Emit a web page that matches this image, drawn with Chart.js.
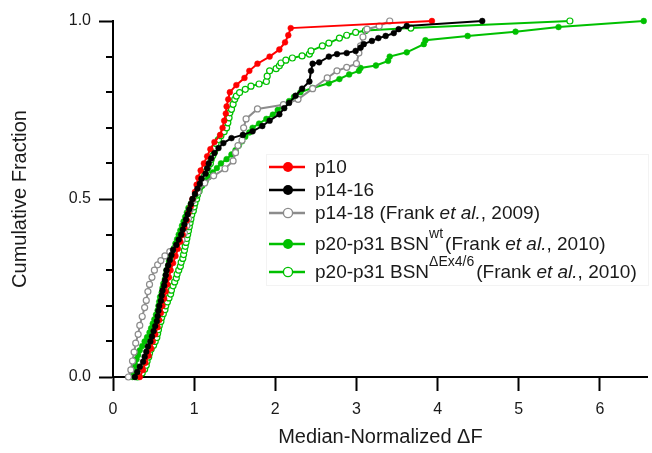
<!DOCTYPE html>
<html><head><meta charset="utf-8">
<script src="https://cdn.jsdelivr.net/npm/chart.js@4.4.1/dist/chart.umd.min.js"></script>
<style>html,body{margin:0;padding:0;background:#fff;}</style>
</head><body>
<canvas id="c" width="652" height="453"></canvas>
<script>
// ---- data ----
const xTickLabels = [0, 1, 2, 3, 4, 5, 6];
const yTickLabels = [0.0, 0.5, 1.0];
const yMinorTicks = [0.1, 0.2, 0.3, 0.4, 0.6, 0.7, 0.8, 0.9];
const xTitle = 'Median-Normalized ΔF';
const yTitle = 'Cumulative Fraction';

const p10X = [0.33,0.37,0.40,0.44,0.47,0.49,0.52,0.55,0.57,0.59,0.61,0.63,0.65,0.67,0.69,0.71,0.74,0.77,0.80,0.83,0.86,0.88,0.91,0.93,0.96,0.98,1.01,1.03,1.05,1.08,1.12,1.16,1.20,1.25,1.32,1.35,1.37,1.39,1.40,1.42,1.44,1.52,1.62,1.68,1.78,1.93,2.05,2.12,2.16,2.19,3.93];
const p10Y = [0.00,0.02,0.04,0.06,0.08,0.10,0.12,0.14,0.16,0.18,0.20,0.22,0.24,0.26,0.28,0.30,0.32,0.34,0.36,0.38,0.40,0.42,0.44,0.46,0.48,0.50,0.52,0.54,0.56,0.58,0.60,0.62,0.64,0.66,0.68,0.70,0.72,0.74,0.76,0.78,0.80,0.82,0.84,0.86,0.88,0.90,0.92,0.94,0.96,0.98,1.00];

const p1416X = [0.27,0.30,0.33,0.37,0.39,0.41,0.43,0.46,0.48,0.50,0.52,0.54,0.55,0.56,0.57,0.59,0.60,0.61,0.63,0.64,0.65,0.66,0.68,0.70,0.72,0.74,0.78,0.81,0.84,0.86,0.88,0.90,0.92,0.94,0.96,0.98,1.01,1.04,1.07,1.09,1.14,1.16,1.18,1.21,1.25,1.30,1.36,1.46,1.60,1.72,1.84,1.93,2.05,2.11,2.17,2.25,2.33,2.42,2.44,2.46,2.54,2.66,2.76,2.88,2.99,3.05,3.09,3.19,3.27,3.36,3.46,3.52,3.62,4.55];
const p1416Y = [0.000,0.014,0.029,0.043,0.057,0.071,0.086,0.100,0.114,0.129,0.143,0.157,0.171,0.186,0.200,0.214,0.229,0.243,0.257,0.271,0.286,0.300,0.314,0.329,0.343,0.357,0.371,0.386,0.400,0.414,0.429,0.443,0.457,0.471,0.486,0.500,0.514,0.529,0.543,0.557,0.571,0.586,0.600,0.614,0.629,0.643,0.657,0.671,0.680,0.690,0.705,0.720,0.738,0.755,0.770,0.790,0.810,0.830,0.860,0.880,0.884,0.900,0.907,0.910,0.916,0.925,0.935,0.944,0.952,0.958,0.966,0.977,0.986,1.000];

const p1418X = [0.19,0.22,0.24,0.26,0.28,0.31,0.33,0.36,0.39,0.41,0.43,0.45,0.48,0.51,0.55,0.59,0.64,0.70,0.78,0.85,0.88,0.91,0.93,0.95,0.98,1.05,1.13,1.24,1.38,1.48,1.51,1.54,1.59,1.61,1.64,1.78,2.10,2.28,2.46,2.64,2.76,2.88,3.00,3.03,3.05,3.08,3.13,3.28,3.41];
const p1418Y = [0.000,0.020,0.045,0.070,0.095,0.120,0.145,0.170,0.195,0.215,0.240,0.260,0.280,0.300,0.315,0.327,0.340,0.352,0.365,0.385,0.405,0.425,0.445,0.470,0.495,0.520,0.545,0.565,0.585,0.607,0.630,0.650,0.665,0.700,0.725,0.753,0.765,0.780,0.810,0.840,0.860,0.870,0.880,0.910,0.930,0.955,0.977,0.986,1.000];

const bsnWtX = [0.24,0.25,0.26,0.27,0.29,0.31,0.33,0.36,0.39,0.42,0.45,0.47,0.49,0.51,0.53,0.55,0.56,0.57,0.58,0.60,0.61,0.62,0.64,0.65,0.66,0.68,0.69,0.71,0.73,0.75,0.77,0.79,0.81,0.83,0.85,0.87,0.89,0.91,0.93,0.96,0.99,1.02,1.06,1.10,1.14,1.18,1.23,1.28,1.33,1.40,1.46,1.51,1.55,1.59,1.63,1.68,1.72,1.80,1.89,1.97,2.03,2.09,2.17,2.23,2.31,2.46,2.66,2.79,2.91,3.03,3.05,3.24,3.39,3.41,3.62,3.83,3.85,4.37,4.96,5.49,6.54];
const bsnWtY = [0.000,0.012,0.025,0.037,0.050,0.062,0.075,0.087,0.100,0.112,0.125,0.137,0.150,0.162,0.175,0.187,0.200,0.212,0.225,0.237,0.250,0.262,0.275,0.287,0.300,0.312,0.325,0.337,0.350,0.362,0.375,0.387,0.400,0.412,0.425,0.437,0.450,0.462,0.475,0.487,0.500,0.512,0.525,0.537,0.550,0.562,0.575,0.587,0.600,0.612,0.625,0.637,0.650,0.662,0.675,0.687,0.700,0.712,0.725,0.737,0.750,0.762,0.775,0.787,0.800,0.812,0.825,0.837,0.850,0.860,0.868,0.875,0.888,0.900,0.912,0.935,0.946,0.958,0.970,0.983,1.000];

const bsnDelX = [0.30,0.36,0.39,0.41,0.42,0.44,0.45,0.47,0.50,0.52,0.54,0.55,0.56,0.57,0.59,0.60,0.62,0.64,0.65,0.67,0.69,0.71,0.72,0.74,0.76,0.78,0.79,0.81,0.83,0.84,0.86,0.87,0.88,0.89,0.90,0.91,0.92,0.93,0.94,0.95,0.96,0.97,0.99,1.00,1.01,1.03,1.04,1.06,1.07,1.09,1.11,1.13,1.15,1.17,1.20,1.21,1.23,1.25,1.26,1.27,1.30,1.33,1.37,1.40,1.415,1.43,1.44,1.46,1.48,1.50,1.52,1.56,1.63,1.70,1.80,1.89,1.90,1.93,2.01,2.05,2.07,2.13,2.21,2.33,2.42,2.44,2.58,2.66,2.79,2.88,2.99,3.11,3.67,5.63];
const bsnDelY = [0.000,0.011,0.022,0.033,0.044,0.056,0.067,0.078,0.089,0.100,0.111,0.122,0.133,0.144,0.156,0.167,0.178,0.189,0.200,0.211,0.222,0.233,0.244,0.256,0.267,0.278,0.289,0.300,0.311,0.322,0.333,0.344,0.356,0.367,0.378,0.389,0.400,0.411,0.422,0.433,0.444,0.456,0.467,0.478,0.489,0.500,0.511,0.522,0.533,0.544,0.556,0.567,0.578,0.589,0.600,0.611,0.622,0.633,0.644,0.656,0.667,0.678,0.689,0.700,0.714,0.728,0.742,0.752,0.766,0.780,0.789,0.799,0.808,0.817,0.823,0.830,0.845,0.860,0.866,0.874,0.882,0.890,0.896,0.902,0.907,0.916,0.930,0.938,0.952,0.960,0.968,0.973,0.980,1.000];

const seriesLabels = ['p10', 'p14-16', 'p14-18', 'p20-p31 BSN wt', 'p20-p31 BSN ΔEx4/6'];

// ---- styling ----
const RED = '#ff0000', BLACK = '#000000', GRAY = '#8c8c8c', GREEN = '#00c000';
const zip = (xs, ys) => xs.map((x, i) => ({x: x, y: ys[i]}));

function ds(label, xs, ys, color, open, order) {
  return {
    label: label, data: zip(xs, ys), showLine: true,
    borderColor: color, borderWidth: 2,
    pointRadius: open ? 3 : 2.9, pointHoverRadius: 3,
    pointBackgroundColor: open ? '#ffffff' : color,
    pointBorderColor: color, pointBorderWidth: open ? 1.2 : 0.5,
    fill: false, tension: 0, clip: false, order: order,
    _open: open
  };
}

const datasets = [
  ds(seriesLabels[0], p10X, p10Y, RED, false, 1),
  ds(seriesLabels[1], p1416X, p1416Y, BLACK, false, 0),
  ds(seriesLabels[2], p1418X, p1418Y, GRAY, true, 2),
  ds(seriesLabels[3], bsnWtX, bsnWtY, GREEN, false, 3),
  ds(seriesLabels[4], bsnDelX, bsnDelY, GREEN, true, 4)
];

const FONT = '"Liberation Sans", Arial, sans-serif';
const TXT = '#1a1a1a';

const minorTickPlugin = {
  id: 'minorTicks',
  afterDraw(chart) {
    const ys = chart.scales.y, ctx = chart.ctx, left = chart.chartArea.left;
    ctx.save();
    ctx.strokeStyle = '#000'; ctx.lineWidth = 2;
    yMinorTicks.forEach(v => {
      const py = Math.round(ys.getPixelForValue(v));
      ctx.beginPath(); ctx.moveTo(left - 7, py); ctx.lineTo(left, py); ctx.stroke();
    });
    ctx.restore();
  }
};

const legendRows = [
  [{t:'p10'}],
  [{t:'p14-16'}],
  [{t:'p14-18 (Frank '},{t:'et al.',i:1},{t:', 2009)'}],
  [{t:'p20-p31 BSN'},{t:'wt',sup:1},{t:'(Frank '},{t:'et al.',i:1},{t:', 2010)'}],
  [{t:'p20-p31 BSN'},{t:'ΔEx4/6',sup:1},{t:'(Frank '},{t:'et al.',i:1},{t:', 2010)'}]
];
const legendRowY = [167, 190, 213, 244, 272];

const legendPlugin = {
  id: 'customLegend',
  afterDraw(chart) {
    const ctx = chart.ctx;
    ctx.save();
    ctx.strokeStyle = '#f3f3f3'; ctx.lineWidth = 1;
    ctx.strokeRect(266.5, 154.5, 382, 131);
    chart.data.datasets.forEach((d, i) => {
      const y = legendRowY[i];
      ctx.strokeStyle = d.borderColor; ctx.lineWidth = 2.4;
      ctx.beginPath(); ctx.moveTo(269, y); ctx.lineTo(305, y); ctx.stroke();
      ctx.beginPath(); ctx.arc(288, y, d._open ? 4.6 : 5, 0, Math.PI * 2);
      ctx.fillStyle = d._open ? '#fff' : d.borderColor; ctx.fill();
      if (d._open) { ctx.lineWidth = 1.4; ctx.stroke(); }
      let x = 315;
      ctx.fillStyle = TXT; ctx.textBaseline = 'middle'; ctx.textAlign = 'left';
      legendRows[i].forEach(p => {
        if (p.sup) {
          ctx.font = '14px ' + FONT;
          ctx.fillText(p.t, x, y - 10);
          x += ctx.measureText(p.t).width + 2;
        } else {
          ctx.font = (p.i ? 'italic ' : '') + '19px ' + FONT;
          ctx.fillText(p.t, x, y + 1);
          x += ctx.measureText(p.t).width;
        }
      });
    });
    ctx.restore();
  }
};

new Chart(document.getElementById('c'), {
  type: 'scatter',
  data: { datasets: datasets },
  options: {
    responsive: false, animation: false, devicePixelRatio: 1,
    layout: { padding: { top: 21, right: 2, left: 0, bottom: 0 } },
    plugins: { legend: { display: false }, tooltip: { enabled: false } },
    scales: {
      x: {
        type: 'linear', min: 0, max: 6.59,
        afterBuildTicks: s => { s.ticks = xTickLabels.map(v => ({value: v})); },
        afterFit: s => { s.height = 76; },
        ticks: { stepSize: 1, color: TXT, font: { family: FONT, size: 16 }, padding: 9,
                 callback: v => String(v), maxRotation: 0, autoSkip: false },
        grid: { display: true, drawOnChartArea: false, drawTicks: true, tickLength: 14,
                tickColor: '#000', tickWidth: 2 },
        border: { display: true, color: '#000', width: 2 },
        title: { display: true, text: xTitle, color: TXT, font: { family: FONT, size: 20 },
                 padding: { top: 0, bottom: 4 } }
      },
      y: {
        type: 'linear', min: 0, max: 1,
        afterBuildTicks: s => { s.ticks = yTickLabels.map(v => ({value: v})); },
        afterFit: s => { s.width = 113; },
        ticks: { color: TXT, font: { family: FONT, size: 16 }, padding: 8,
                 callback: v => Number(v).toFixed(1) },
        grid: { display: true, drawOnChartArea: false, drawTicks: true, tickLength: 14,
                tickColor: '#000', tickWidth: 2 },
        border: { display: true, color: '#000', width: 2 },
        title: { display: true, text: yTitle, color: TXT, font: { family: FONT, size: 20 },
                 padding: { top: 8, bottom: 0 } }
      }
    }
  },
  plugins: [minorTickPlugin, legendPlugin]
});
</script>
</body></html>
